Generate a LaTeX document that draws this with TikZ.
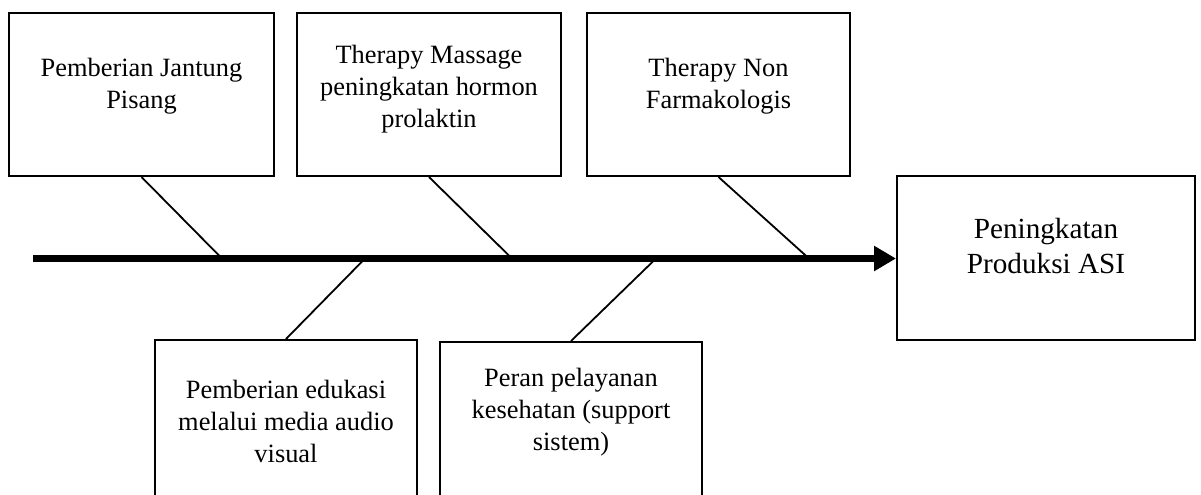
\documentclass[tikz,border=0pt]{standalone}
\usepackage{fontspec}
\setmainfont{Liberation Serif}
\usetikzlibrary{arrows.meta}
\begin{document}
\begin{tikzpicture}[x=0.5pt,y=-0.5pt,
  box/.style={draw, line width=1pt, inner sep=0pt, fill=none},
  txt/.style={font=\fontsize{13.2pt}{16pt}\selectfont, align=center, inner sep=0pt},
  bigtxt/.style={font=\fontsize{14.6pt}{17.5pt}\selectfont, align=center, inner sep=0pt},
  bone/.style={line width=0.9pt},
  spine/.style={line width=3.5pt, -{Triangle[length=11pt,width=12pt]}}]
\clip (0,0) rectangle (1201,494);
\fill[white] (0,0) rectangle (1201,494);
% boxes
\node[box, minimum width=132.5pt, minimum height=81.5pt] (b1) at (141.5,94.5) {};
\node[box, minimum width=132pt, minimum height=81.5pt] (b2) at (429,94.5) {};
\node[box, minimum width=131.5pt, minimum height=81.5pt] (b3) at (718.5,94.5) {};
\node[box, minimum width=149pt, minimum height=82pt] (res) at (1046,258) {};
\node[box, minimum width=131pt, minimum height=85pt] (b4) at (286,425) {};
\node[box, minimum width=131pt, minimum height=84pt] (b5) at (571,426) {};
% texts
\node[txt] (t1) at (141.5,86) {Pemberian Jantung\\Pisang};
\node[txt] (t2) at (429,89.5) {Therapy Massage\\peningkatan hormon\\prolaktin};
\node[txt] (t3) at (718.5,86) {Therapy Non\\Farmakologis};
\node[bigtxt] (tr) at (1046,246.5) {Peningkatan\\Produksi ASI};
\node[txt] (t4) at (286,421) {Pemberian edukasi\\melalui media audio\\visual};
\node[txt] (t5) at (571,412) {Peran pelayanan\\kesehatan (support\\sistem)};
% spine coordinates
\coordinate (sL) at (33,258.5);
\coordinate (sR) at (896,258.5);
\coordinate (j1) at (222,258.5);
\coordinate (j2) at (512,258.5);
\coordinate (j3) at (809,258.5);
\coordinate (k1) at (365,258.5);
\coordinate (k2) at (656,258.5);
% bones
\draw[bone] (b1.south) -- (j1);
\draw[bone] (b2.south) -- (j2);
\draw[bone] (b3.south) -- (j3);
\draw[bone] (k1) -- (b4.north);
\draw[bone] (k2) -- (b5.north);
% spine
\draw[spine] (sL) -- (sR);
\end{tikzpicture}
\end{document}
